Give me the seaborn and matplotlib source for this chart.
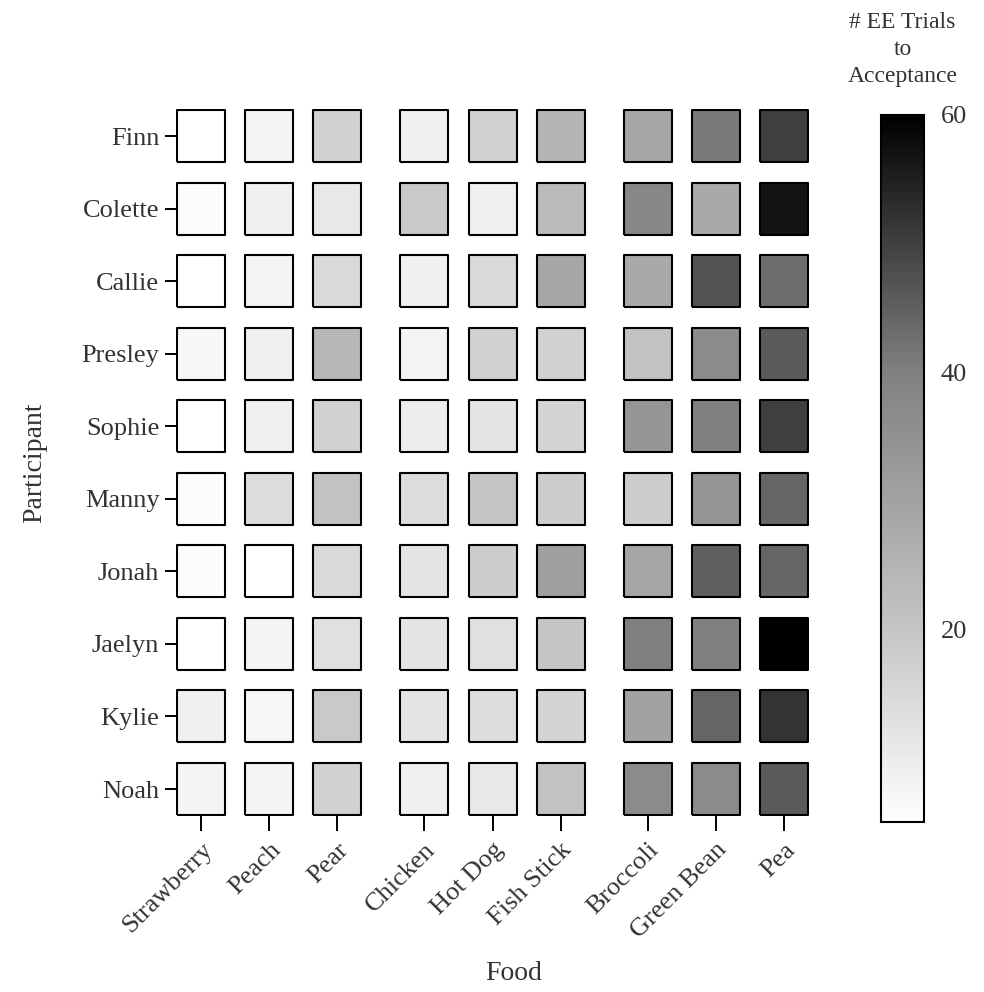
import numpy as np
import pandas as pd
import seaborn as sns
import matplotlib
matplotlib.use("Agg")
import matplotlib.pyplot as plt
from matplotlib.colors import LinearSegmentedColormap, Normalize
from matplotlib.cm import ScalarMappable
from matplotlib.markers import MarkerStyle

foods = ["Strawberry", "Peach", "Pear", "Chicken", "Hot Dog", "Fish Stick",
         "Broccoli", "Green Bean", "Pea"]
participants = ["Finn", "Colette", "Callie", "Presley", "Sophie", "Manny",
                "Jonah", "Jaelyn", "Kylie", "Noah"]

# trials to acceptance, one list per participant (same order as foods)
finn    = [5, 8, 17, 9, 17, 25, 29, 41, 50]
colette = [6, 9, 11, 19, 9, 23, 38, 28, 57]
callie  = [5, 8, 15, 9, 15, 29, 28, 47, 43]
presley = [7, 9, 24, 8, 17, 17, 21, 37, 46]
sophie  = [5, 9, 17, 10, 12, 16, 34, 40, 50]
manny   = [6, 14, 21, 14, 20, 18, 18, 34, 44]
jonah   = [6, 5, 15, 12, 18, 31, 29, 45, 44]
jaelyn  = [5, 8, 13, 12, 13, 20, 40, 40, 60]
kylie   = [9, 7, 19, 12, 14, 16, 30, 44, 52]
noah    = [8, 8, 17, 9, 11, 21, 37, 37, 46]
rows = [finn, colette, callie, presley, sophie, manny, jonah, jaelyn, kylie, noah]

cbar_ticks = [20, 40, 60]
vmin, vmax = 5, 60

# long form table
recs = []
for r, (name, vals) in enumerate(zip(participants, rows)):
    for j, (food, v) in enumerate(zip(foods, vals)):
        recs.append({"participant": name, "food": food, "row": r,
                     "col": j + (j // 3) * 0.28, "trials": v})
df = pd.DataFrame(recs)

sns.set_style("white")
plt.rcParams["font.family"] = ["Liberation Serif", "DejaVu Serif"]
txt = "#333333"

# grey ramp: white -> mid grey at 40 -> black at 60
def pos(v):
    return (v - vmin) / (vmax - vmin)
cmap = LinearSegmentedColormap.from_list(
    "trials", [(0, "#ffffff"), (pos(20), "#c5c5c5"), (pos(40), "#808080"), (1, "#000000")])

fig = plt.figure(figsize=(9.84, 9.92), dpi=100)
ax = fig.add_axes([0.1789, 0.1774, 0.6433, 0.7127])
cax = fig.add_axes([0.8953, 0.1714, 0.0437, 0.7127])

box = MarkerStyle([(-24, -26), (24, -26), (24, 26), (-24, 26), (-24, -26)])
sns.scatterplot(data=df, x="col", y="row", hue="trials", palette=cmap,
                hue_norm=(vmin, vmax), marker=box, s=1402, edgecolor="black",
                linewidth=1.5, legend=False, ax=ax)

xpos = [j + (j // 3) * 0.28 for j in range(len(foods))]
ax.set_xlim(-0.368, xpos[-1] + 0.368)
ax.set_ylim(len(participants) - 1 + 0.372, -0.372)
ax.set_xticks(xpos)
ax.set_xticklabels(foods)
ax.set_yticks(range(len(participants)))
ax.set_yticklabels(participants)
sns.despine(ax=ax, left=True, bottom=True)

ax.tick_params(axis="x", length=10.5, width=1.4, color="black", labelsize=19,
               labelcolor=txt, pad=6, bottom=True)
ax.tick_params(axis="y", length=8, width=1.4, color="black", labelsize=19,
               labelcolor=txt, pad=4, left=True)
plt.setp(ax.get_xticklabels(), rotation=45, ha="right", rotation_mode="anchor")

ax.set_xlabel("Food", fontsize=20, color=txt)
ax.set_ylabel("Participant", fontsize=20, color=txt)
ax.xaxis.set_label_coords(0.534, -0.205)
ax.yaxis.set_label_coords(-0.204, 0.5)

sm = ScalarMappable(norm=Normalize(vmin, vmax), cmap=cmap)
cb = fig.colorbar(sm, cax=cax)
cb.set_ticks(cbar_ticks)
cb.outline.set_linewidth(1.5)
cb.outline.set_edgecolor("black")
cax.tick_params(direction="in", length=5, width=1.4, color="black",
                left=True, right=True, labelsize=19, labelcolor=txt, pad=12)
cax.text(0.5, 1.04, "# EE Trials\nto\nAcceptance", transform=cax.transAxes,
         ha="center", va="bottom", fontsize=17, color=txt, linespacing=1.35)

fig.savefig("out.png", dpi=100)
